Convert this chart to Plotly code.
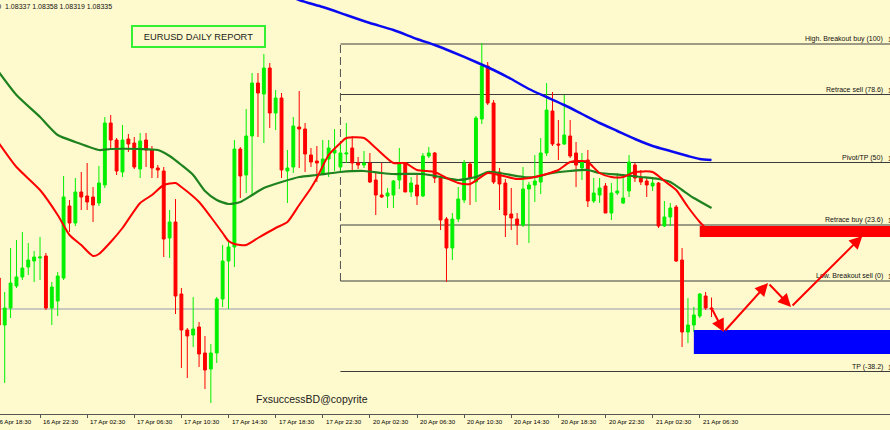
import plotly.graph_objects as go

# ---------------- data (EURUSD, M30) ----------------
BAR_INDEX = list(range(122))

OPEN = [1.08397, 1.08303, 1.08337, 1.08381, 1.08399, 1.08419, 1.08431, 1.08437, 1.08441, 1.08337,
        1.08351, 1.08397, 1.08541, 1.08507, 1.08569, 1.08561, 1.08559, 1.08547, 1.08583, 1.08707,
        1.08673, 1.08609, 1.08675, 1.08667, 1.08615, 1.08673, 1.08653, 1.08617, 1.08611, 1.08477,
        1.08509, 1.08365, 1.08293, 1.08283, 1.08299, 1.08247, 1.08215, 1.08247, 1.08355, 1.08431,
        1.08459, 1.08655, 1.08603, 1.08681, 1.08787, 1.08765, 1.08817, 1.08727, 1.08757, 1.08611,
        1.08619, 1.08699, 1.08695, 1.08643, 1.08631, 1.08605, 1.08635, 1.08647, 1.08619, 1.08645,
        1.08657, 1.08627, 1.08623, 1.08627, 1.08593, 1.08563, 1.08561, 1.08563, 1.08593, 1.08627,
        1.08569, 1.08583, 1.08561, 1.08641, 1.08647, 1.08597, 1.08515, 1.08457, 1.08515, 1.08553,
        1.08625, 1.08589, 1.08715, 1.08821, 1.08747, 1.08609, 1.08587, 1.08525, 1.08515, 1.08503,
        1.08575, 1.08583, 1.08589, 1.08647, 1.08731, 1.08665, 1.08665, 1.08681, 1.08647, 1.08617,
        1.08633, 1.08551, 1.08563, 1.08581, 1.08527, 1.08567, 1.08547, 1.08571, 1.08623, 1.08597,
        1.08591, 1.08581, 1.08587, 1.08501, 1.08519, 1.08539, 1.08433, 1.08289, 1.08303, 1.08321,
        1.08361, 1.08337]

HIGH = [1.08409, 1.08369, 1.08457, 1.08473, 1.08489, 1.08467, 1.08451, 1.08479, 1.08447, 1.08389,
        1.08409, 1.08601, 1.08553, 1.08597, 1.08609, 1.08627, 1.08579, 1.08621, 1.08719, 1.08723,
        1.08677, 1.08703, 1.08685, 1.08679, 1.08687, 1.08687, 1.08661, 1.08623, 1.08619, 1.08533,
        1.08555, 1.08377, 1.08297, 1.08359, 1.08309, 1.08281, 1.08265, 1.08359, 1.08463, 1.08473,
        1.08673, 1.08659, 1.08735, 1.08807, 1.08807, 1.08845, 1.08827, 1.08773, 1.08767, 1.08653,
        1.08719, 1.08771, 1.08707, 1.08657, 1.08661, 1.08673, 1.08673, 1.08695, 1.08667, 1.08707,
        1.08681, 1.08639, 1.08651, 1.08647, 1.08609, 1.08627, 1.08577, 1.08593, 1.08657, 1.08629,
        1.08599, 1.08603, 1.08647, 1.08659, 1.08649, 1.08601, 1.08519, 1.08527, 1.08579, 1.08633,
        1.08629, 1.08721, 1.08867, 1.08829, 1.08753, 1.08617, 1.08595, 1.08577, 1.08527, 1.08619,
        1.08589, 1.08643, 1.08677, 1.08787, 1.08769, 1.08713, 1.08763, 1.08713, 1.08669, 1.08647,
        1.08653, 1.08597, 1.08597, 1.08587, 1.08587, 1.08607, 1.08597, 1.08643, 1.08627, 1.08613,
        1.08599, 1.08599, 1.08589, 1.08551, 1.08547, 1.08543, 1.08457, 1.08357, 1.08339, 1.08367,
        1.08369, 1.08358]

LOW = [1.08293, 1.08187, 1.08317, 1.08377, 1.08393, 1.08403, 1.08389, 1.08393, 1.08333, 1.08303,
       1.08321, 1.08393, 1.08489, 1.08501, 1.08533, 1.08533, 1.08509, 1.08541, 1.08577, 1.08657,
       1.08603, 1.08599, 1.08649, 1.08615, 1.08597, 1.08619, 1.08597, 1.08597, 1.08439, 1.08437,
       1.08325, 1.08217, 1.08197, 1.08259, 1.08219, 1.08175, 1.08147, 1.08227, 1.08339, 1.08335,
       1.08419, 1.08557, 1.08567, 1.08563, 1.08679, 1.08667, 1.08697, 1.08693, 1.08597, 1.08547,
       1.08607, 1.08617, 1.08609, 1.08619, 1.08589, 1.08603, 1.08599, 1.08611, 1.08609, 1.08627,
       1.08613, 1.08615, 1.08617, 1.08587, 1.08523, 1.08557, 1.08537, 1.08537, 1.08575, 1.08569,
       1.08559, 1.08543, 1.08559, 1.08637, 1.08587, 1.08493, 1.08389, 1.08433, 1.08509, 1.08547,
       1.08543, 1.08549, 1.08705, 1.08743, 1.08585, 1.08533, 1.08479, 1.08493, 1.08463, 1.08499,
       1.08467, 1.08549, 1.08565, 1.08641, 1.08661, 1.08633, 1.08663, 1.08637, 1.08579, 1.08593,
       1.08539, 1.08547, 1.08547, 1.08527, 1.08513, 1.08563, 1.08545, 1.08559, 1.08589, 1.08583,
       1.08559, 1.08571, 1.08497, 1.08499, 1.08501, 1.08429, 1.08259, 1.08267, 1.08289, 1.08317,
       1.08333, 1.08319]

CLOSE = [1.08303, 1.08337, 1.08387, 1.08399, 1.08417, 1.08433, 1.08439, 1.08439, 1.08337, 1.08379,
         1.08401, 1.08559, 1.08507, 1.08569, 1.08559, 1.08549, 1.08543, 1.08587, 1.08707, 1.08673,
         1.08611, 1.08673, 1.08665, 1.08619, 1.08671, 1.08653, 1.08617, 1.08613, 1.08475, 1.08509,
         1.08361, 1.08293, 1.08281, 1.08295, 1.08245, 1.08213, 1.08247, 1.08355, 1.08431, 1.08459,
         1.08655, 1.08601, 1.08681, 1.08787, 1.08767, 1.08817, 1.08727, 1.08757, 1.08613, 1.08617,
         1.08701, 1.08695, 1.08645, 1.08629, 1.08627, 1.08635, 1.08657, 1.08653, 1.08647, 1.08647,
         1.08627, 1.08623, 1.08627, 1.08589, 1.08563, 1.08559, 1.08567, 1.08591, 1.08627, 1.08569,
         1.08587, 1.08561, 1.08641, 1.08647, 1.08597, 1.08513, 1.08457, 1.08515, 1.08555, 1.08627,
         1.08597, 1.08717, 1.08821, 1.08747, 1.08589, 1.08585, 1.08523, 1.08517, 1.08503, 1.08575,
         1.08583, 1.08591, 1.08647, 1.08733, 1.08665, 1.08663, 1.08683, 1.08641, 1.08623, 1.08629,
         1.08551, 1.08567, 1.08577, 1.08527, 1.08567, 1.08571, 1.08557, 1.08629, 1.08597, 1.08589,
         1.08583, 1.08587, 1.08501, 1.08519, 1.08537, 1.08431, 1.08289, 1.08303, 1.08323, 1.08365,
         1.08337, 1.08335]

# moving averages (bar index, price)
MA_FAST_X = [0, 3, 7, 10, 12, 14, 16, 17, 19, 21, 24, 26, 28, 30, 31, 34, 36, 38, 39, 40, 42, 44, 47, 49,
             51, 53, 54, 56, 58, 59, 62, 64, 67, 69, 71, 74, 76, 78, 80, 83, 85, 88, 91, 93, 95, 97, 99,
             100, 102, 104, 106, 108, 111, 113, 115, 117, 119, 120]
MA_FAST_Y = [1.08667, 1.08619, 1.08573, 1.08523, 1.08483, 1.08463, 1.08441, 1.08445, 1.08469, 1.08497,
             1.08547, 1.08563, 1.08583, 1.08587, 1.08579, 1.08549, 1.08519, 1.08487, 1.08471, 1.08465,
             1.08463, 1.08477, 1.08497, 1.08509, 1.08543, 1.08577, 1.08597, 1.08643, 1.08667, 1.08677,
             1.08677, 1.08657, 1.08627, 1.08627, 1.08613, 1.08609, 1.08597, 1.08587, 1.08585, 1.08607,
             1.08603, 1.08595, 1.08599, 1.08605, 1.08613, 1.08629, 1.08631, 1.08629, 1.08607, 1.08599,
             1.08599, 1.08609, 1.08609, 1.08591, 1.08573, 1.08539, 1.08509, 1.08497]

MA_MID_X = [0, 3, 7, 10, 13, 17, 19, 24, 27, 29, 31, 33, 35, 37, 39, 41, 43, 45, 48, 51, 54, 58, 62, 65,
            67, 72, 75, 78, 81, 83, 85, 89, 91, 94, 97, 100, 102, 106, 109, 112, 114, 116, 118, 121]
MA_MID_Y = [1.08809, 1.08763, 1.08719, 1.08683, 1.08669, 1.08653, 1.08655, 1.08655, 1.08653, 1.08641,
            1.08623, 1.08603, 1.08571, 1.08553, 1.08545, 1.08549, 1.08563, 1.08577, 1.08589, 1.08599,
            1.08603, 1.08609, 1.08611, 1.08607, 1.08605, 1.08605, 1.08599, 1.08593, 1.08599, 1.08609,
            1.08607, 1.08599, 1.08599, 1.08607, 1.08611, 1.08613, 1.08607, 1.08603, 1.08599, 1.08595,
            1.08589, 1.08573, 1.08557, 1.08537]

MA_SLOW_X = [48, 51, 55, 59, 63, 67, 71, 74, 77, 81, 84, 87, 90, 93, 96, 99, 102, 105, 108, 111, 114,
             117, 119, 121]
MA_SLOW_Y = [1.08969, 1.08953, 1.08939, 1.08923, 1.08907, 1.08893, 1.08875, 1.08863, 1.08849, 1.08829,
             1.08813, 1.08795, 1.08775, 1.08759, 1.08743, 1.08725, 1.08707, 1.08691, 1.08675, 1.08661,
             1.08651, 1.08641, 1.08635, 1.08633]

# Fibonacci grid
FIB_NAMES = ["High. Breakout buy (100)", "Retrace sell (78.6)", "Pivot/TP (50)",
             "Retrace buy (23.6)", "Low. Breakout sell (0)", "TP (-38.2)"]
FIB_LEVELS = [1.08865, 1.08764, 1.08628, 1.08503, 1.08391, 1.08210]
FIB_START = 58

# zones and projected path
SELL_ZONE = [1.08479, 1.08501]
SELL_ZONE_START = 119
BUY_ZONE = [1.08245, 1.08293]
BUY_ZONE_START = 118
PATH_X = [121, 123.1, 130.6, 134.5, 146.6]
PATH_Y = [1.08337, 1.08289, 1.08387, 1.08339, 1.08481]

# time axis
TICK_INDEX = [7, 15, 23, 31, 39, 47, 55, 63, 71, 79, 87, 95, 103, 111, 119]
TICK_TEXT = ["16 Apr 22:30", "17 Apr 02:30", "17 Apr 06:30", "17 Apr 10:30", "17 Apr 14:30",
             "17 Apr 18:30", "17 Apr 22:30", "20 Apr 02:30", "20 Apr 06:30", "20 Apr 10:30",
             "20 Apr 14:30", "20 Apr 18:30", "20 Apr 22:30", "21 Apr 02:30", "21 Apr 06:30"]
FIRST_TICK_INDEX = -1
FIRST_TICK_TEXT = "16 Apr 18:30"

SYMBOL_TEXT = "EURUSD,M30  1.08337 1.08358 1.08319 1.08335"

# ---------------- figure ----------------
W, H = 890, 430
M_BOTTOM = 16
XMIN, XMAX = 0.204, 151.3
YMIN, YMAX = 1.08125, 1.08953
BG = "#FFFACD"
FONT = "Liberation Sans"

fig = go.Figure()

fig.add_trace(go.Candlestick(
    x=BAR_INDEX, open=OPEN, high=HIGH, low=LOW, close=CLOSE,
    increasing=dict(line=dict(color="#00F000", width=1), fillcolor="#00F000"),
    decreasing=dict(line=dict(color="#FF0000", width=1), fillcolor="#FF0000"),
    whiskerwidth=0, showlegend=False, hoverinfo="skip"))

fig.add_trace(go.Scatter(x=MA_MID_X, y=MA_MID_Y, mode="lines",
                         line=dict(color="#1E821E", width=2.2, shape="spline", smoothing=0.6),
                         showlegend=False, hoverinfo="skip"))
fig.add_trace(go.Scatter(x=MA_FAST_X, y=MA_FAST_Y, mode="lines",
                         line=dict(color="#FF0000", width=2, shape="spline", smoothing=0.6),
                         showlegend=False, hoverinfo="skip"))
fig.add_trace(go.Scatter(x=MA_SLOW_X, y=MA_SLOW_Y, mode="lines",
                         line=dict(color="#0A0AF0", width=2.5, shape="spline", smoothing=0.6),
                         showlegend=False, hoverinfo="skip"))

shapes = []
# bid line
shapes.append(dict(type="line", xref="x", yref="y", x0=XMIN, x1=XMAX, y0=CLOSE[-1], y1=CLOSE[-1],
                   line=dict(color="#B8B8B8", width=1.5), layer="below"))
# fib lines
for lvl in FIB_LEVELS:
    shapes.append(dict(type="line", xref="x", yref="y", x0=FIB_START, x1=XMAX, y0=lvl, y1=lvl,
                       line=dict(color="#3C3C3C", width=1), layer="below"))
shapes.append(dict(type="line", xref="x", yref="y", x0=FIB_START, x1=FIB_START,
                   y0=FIB_LEVELS[4], y1=FIB_LEVELS[0],
                   line=dict(color="#505050", width=1, dash="8px,4px"), layer="below"))
# zones
shapes.append(dict(type="rect", xref="x", yref="y", x0=SELL_ZONE_START, x1=XMAX,
                   y0=SELL_ZONE[0], y1=SELL_ZONE[1], fillcolor="#FF0000", line=dict(width=0)))
shapes.append(dict(type="rect", xref="x", yref="y", x0=BUY_ZONE_START, x1=XMAX,
                   y0=BUY_ZONE[0], y1=BUY_ZONE[1], fillcolor="#0000FF", line=dict(width=0)))

plot_h = H - M_BOTTOM
annotations = []

def px_x(p):
    return p / W

def px_y(p):
    return (plot_h - p) / plot_h

# fib labels
for name, lvl in zip(FIB_NAMES, FIB_LEVELS):
    annotations.append(dict(text=name, xref="paper", yref="y", x=px_x(884), y=lvl,
                            xanchor="right", yanchor="bottom", showarrow=False,
                            font=dict(family=FONT, size=7, color="#111111"), borderpad=0))
    annotations.append(dict(text=f"{lvl:.5f}", xref="paper", yref="y", x=px_x(887), y=lvl,
                            xanchor="left", yanchor="bottom", showarrow=False,
                            font=dict(family=FONT, size=7, color="#111111"), borderpad=0))

# projected path arrows
for k in range(len(PATH_X) - 1):
    annotations.append(dict(text="", x=PATH_X[k + 1], y=PATH_Y[k + 1], ax=PATH_X[k], ay=PATH_Y[k],
                            xref="x", yref="y", axref="x", ayref="y", showarrow=True,
                            arrowhead=2, arrowsize=1.3, arrowwidth=2, arrowcolor="#FF0000"))

# title box
annotations.append(dict(text="EURUSD DAILY REPORT", xref="paper", yref="paper",
                        x=px_x(198.5), y=px_y(36.5), xanchor="center", yanchor="middle",
                        showarrow=False, width=129, height=17, borderpad=1,
                        bordercolor="#33F033", borderwidth=2,
                        font=dict(family=FONT, size=9.3, color="#1A1A1A")))
# symbol line
annotations.append(dict(text=SYMBOL_TEXT, xref="paper", yref="paper", x=px_x(114), y=px_y(7),
                        xanchor="right", yanchor="middle", showarrow=False,
                        font=dict(family=FONT, size=7, color="#111111")))
# copyright
annotations.append(dict(text="FxsuccessBD@copyrite", xref="paper", yref="paper",
                        x=px_x(254), y=px_y(399), xanchor="left", yanchor="middle",
                        showarrow=False, font=dict(family=FONT, size=10.5, color="#222222")))
# time labels
for idx, lab in zip(TICK_INDEX, TICK_TEXT):
    annotations.append(dict(text=lab, xref="x", yref="paper", x=idx, y=0, xanchor="left",
                            yanchor="top", xshift=1, yshift=-2, showarrow=False,
                            font=dict(family=FONT, size=6.2, color="#000000")))
annotations.append(dict(text=FIRST_TICK_TEXT, xref="paper", yref="paper",
                        x=(FIRST_TICK_INDEX - XMIN) / (XMAX - XMIN), y=0, xanchor="left",
                        yanchor="top", xshift=1, yshift=-2, showarrow=False,
                        font=dict(family=FONT, size=6.2, color="#000000")))

fig.update_layout(
    width=W, height=H,
    margin=dict(l=0, r=0, t=0, b=M_BOTTOM, pad=0),
    paper_bgcolor=BG, plot_bgcolor=BG,
    shapes=shapes, annotations=annotations,
    showlegend=False,
    xaxis=dict(range=[XMIN, XMAX], rangeslider=dict(visible=False), showgrid=False, zeroline=False,
               showline=True, linecolor="#555555", linewidth=1,
               tickmode="array", tickvals=TICK_INDEX, ticks="outside", ticklen=3,
               tickcolor="#555555", showticklabels=False),
    yaxis=dict(range=[YMIN, YMAX], showgrid=False, zeroline=False, showline=False,
               showticklabels=False, ticks=""),
)

fig.write_html("out.html", config={"displayModeBar": False},
               post_script="document.body.style.margin='0';document.body.style.overflow='hidden';")
